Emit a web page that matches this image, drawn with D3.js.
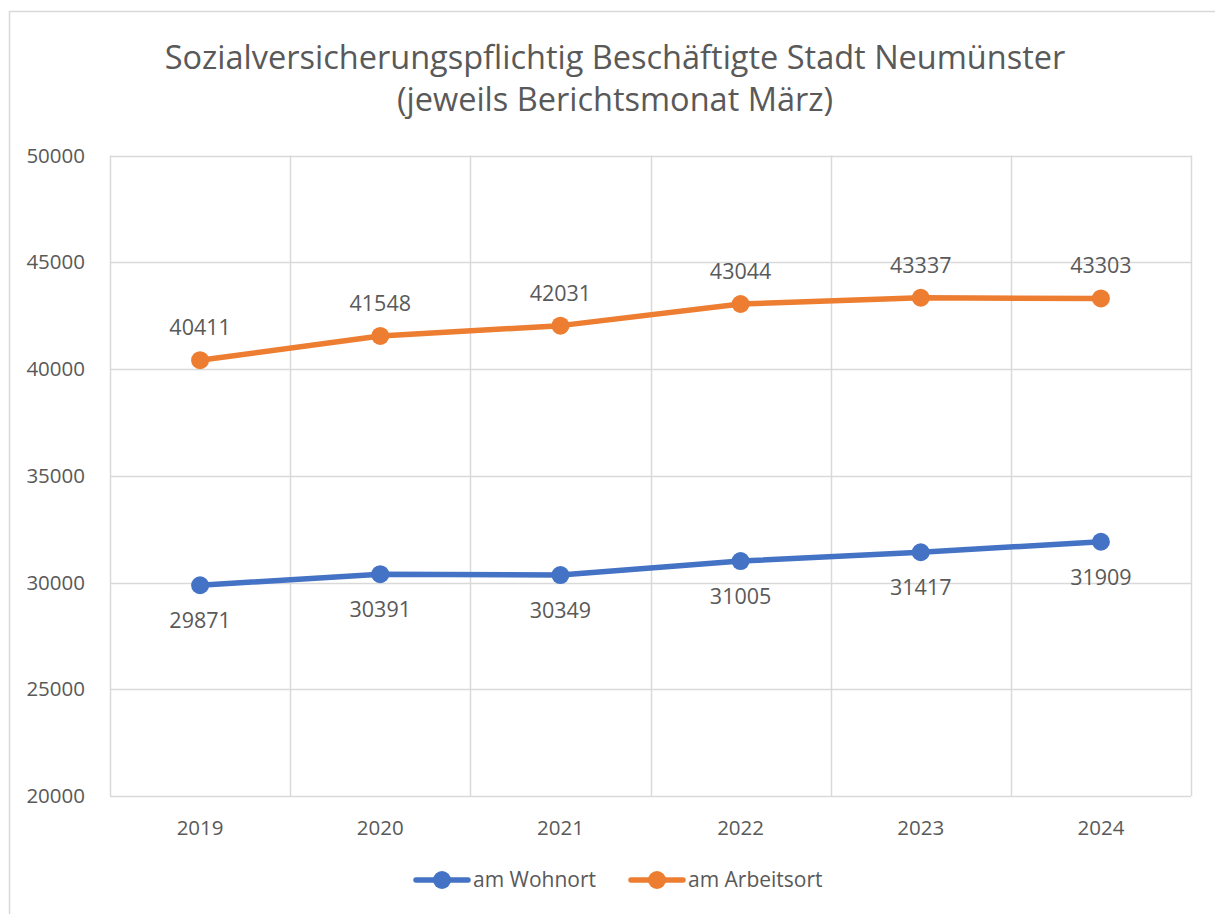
<!DOCTYPE html>
<html>
<head>
<meta charset="utf-8">
<script src="https://cdn.jsdelivr.net/npm/d3@7/dist/d3.min.js"></script>
<style>
  html, body { margin: 0; padding: 0; background: #fff; }
  svg { display: block; font-family: "Open Sans", "Noto Sans", sans-serif; }
</style>
</head>
<body>
<svg id="chart" width="1215" height="914"></svg>
<script>
  // Daten: Sozialversicherungspflichtig Beschäftigte, Neumünster (März)
  const years = ['2019', '2020', '2021', '2022', '2023', '2024'];
  const wohnort = [29871, 30391, 30349, 31005, 31417, 31909];
  const arbeitsort = [40411, 41548, 42031, 43044, 43337, 43303];
  const yTicks = [20000, 25000, 30000, 35000, 40000, 45000, 50000];
  const titleLines = ['Sozialversicherungspflichtig Beschäftigte Stadt Neumünster', '(jeweils Berichtsmonat März)'];

  const series = [
    { name: 'am Wohnort', values: wohnort, color: '#4472C4', labelPos: 'below' },
    { name: 'am Arbeitsort', values: arbeitsort, color: '#ED7D31', labelPos: 'above' },
  ];

  const svg = d3.select('#chart');
  const textCol = '#595959';
  const gridCol = '#D9D9D9';

  // äußerer Rahmen
  svg.append('rect')
    .attr('x', 9.5).attr('y', 11.5).attr('width', 1215).attr('height', 920)
    .attr('fill', '#fff').attr('stroke', gridCol).attr('stroke-width', 1.5);

  // Titel
  svg.append('g').selectAll('text').data(titleLines).join('text')
    .attr('x', 615).attr('y', (d, i) => 69 + i * 42)
    .attr('text-anchor', 'middle')
    .attr('font-size', 32.5).attr('fill', textCol)
    .text((d) => d);

  const plot = { left: 110, right: 1191, top: 155.5, bottom: 796 };

  const x = d3.scaleBand().domain(years).range([plot.left, plot.right]);
  const y = d3.scaleLinear().domain([20000, 50000]).range([plot.bottom, plot.top]);
  const cx = (d) => x(d) + x.bandwidth() / 2;

  // horizontale Gitterlinien
  svg.append('g').selectAll('line').data(yTicks).join('line')
    .attr('x1', plot.left).attr('x2', plot.right)
    .attr('y1', (d) => Math.round(y(d)) + 0.5).attr('y2', (d) => Math.round(y(d)) + 0.5)
    .attr('stroke', gridCol).attr('stroke-width', 1.5);

  // vertikale Gitterlinien (Kategoriegrenzen)
  const bounds = years.map((d) => x(d)).concat([plot.right]);
  svg.append('g').selectAll('line').data(bounds).join('line')
    .attr('x1', (d) => Math.round(d) + 0.5).attr('x2', (d) => Math.round(d) + 0.5)
    .attr('y1', plot.top).attr('y2', plot.bottom)
    .attr('stroke', gridCol).attr('stroke-width', 1.5);

  // y-Achse
  const yAxis = svg.append('g')
    .attr('transform', `translate(${plot.left - 22},0)`)
    .call(d3.axisLeft(y).tickValues(yTicks).tickFormat(d3.format('d')).tickSize(0));
  yAxis.select('.domain').remove();
  yAxis.selectAll('text').attr('font-size', 20.5).attr('fill', textCol)
    .attr('font-family', '"Open Sans", sans-serif');

  // x-Achse
  const xAxis = svg.append('g')
    .attr('transform', `translate(0,${plot.bottom + 21.5})`)
    .call(d3.axisBottom(x).tickSize(0));
  xAxis.select('.domain').remove();
  xAxis.selectAll('text').attr('font-size', 20.5).attr('fill', textCol)
    .attr('font-family', '"Open Sans", sans-serif');

  const line = d3.line().x((d, i) => cx(years[i])).y((d) => y(d));

  series.forEach((s) => {
    const g = svg.append('g');
    g.append('path').datum(s.values)
      .attr('d', line).attr('fill', 'none')
      .attr('stroke', s.color).attr('stroke-width', 5.5)
      .attr('stroke-linejoin', 'round').attr('stroke-linecap', 'round');
    g.selectAll('circle').data(s.values).join('circle')
      .attr('cx', (d, i) => cx(years[i])).attr('cy', (d) => y(d))
      .attr('r', 9).attr('fill', s.color);
    g.selectAll('text').data(s.values).join('text')
      .attr('x', (d, i) => cx(years[i]))
      .attr('y', (d) => s.labelPos === 'above' ? y(d) - 25 : y(d) + 43)
      .attr('text-anchor', 'middle')
      .attr('font-size', 21.5).attr('fill', textCol)
      .text((d) => d);
  });

  // Legende
  const legend = svg.append('g').attr('transform', 'translate(0,880)');
  const items = legend.selectAll('g').data(series).join('g')
    .attr('transform', (d, i) => `translate(${[413, 628][i]},0)`);
  items.append('line')
    .attr('x1', 3).attr('x2', 55).attr('y1', 0).attr('y2', 0)
    .attr('stroke', (d) => d.color).attr('stroke-width', 5.5).attr('stroke-linecap', 'round');
  items.append('circle').attr('cx', 29).attr('cy', 0).attr('r', 9).attr('fill', (d) => d.color);
  items.append('text')
    .attr('x', 60).attr('y', 0).attr('dy', '0.35em')
    .attr('font-size', 21).attr('fill', textCol)
    .text((d) => d.name);
</script>
</body>
</html>
